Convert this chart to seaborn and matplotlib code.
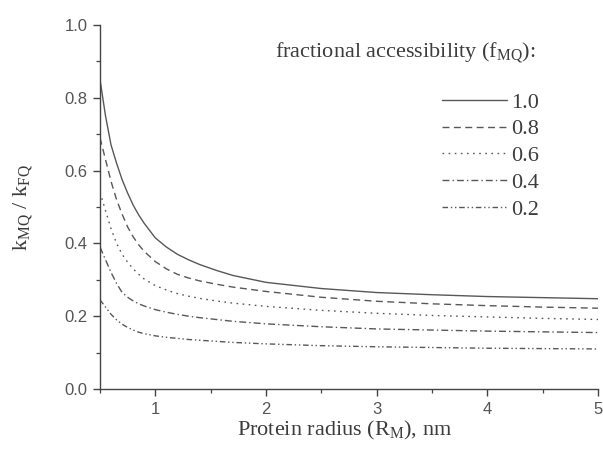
import numpy as np
import pandas as pd
import matplotlib
matplotlib.use("Agg")
import matplotlib.pyplot as plt
import seaborn as sns
from matplotlib.ticker import MultipleLocator

# ---- data ----
radius = [0.5, 0.55, 0.6, 0.65, 0.7, 0.75, 0.8, 0.85, 0.9, 1.0, 1.1, 1.2, 1.3, 1.4, 1.55, 1.7, 2.0, 2.5, 3.0, 3.5, 4.0, 4.5, 5.0]
k_10 = [0.85, 0.75, 0.67, 0.62, 0.575, 0.538, 0.505, 0.478, 0.455, 0.415, 0.390, 0.370, 0.355, 0.342, 0.326, 0.312, 0.293, 0.276, 0.265, 0.259, 0.254, 0.251, 0.248]
k_08 = [0.69, 0.63, 0.57, 0.52, 0.48, 0.445, 0.418, 0.396, 0.378, 0.350, 0.330, 0.315, 0.305, 0.297, 0.288, 0.280, 0.268, 0.252, 0.241, 0.234, 0.229, 0.225, 0.222]
k_06 = [0.54, 0.49, 0.44, 0.40, 0.37, 0.348, 0.330, 0.315, 0.302, 0.284, 0.272, 0.262, 0.255, 0.249, 0.242, 0.236, 0.227, 0.216, 0.208, 0.202, 0.198, 0.194, 0.191]
k_04 = [0.39, 0.355, 0.32, 0.29, 0.265, 0.252, 0.242, 0.234, 0.228, 0.218, 0.211, 0.205, 0.200, 0.196, 0.191, 0.186, 0.179, 0.171, 0.165, 0.162, 0.159, 0.157, 0.155]
k_02 = [0.245, 0.225, 0.205, 0.19, 0.178, 0.169, 0.162, 0.156, 0.152, 0.146, 0.142, 0.139, 0.136, 0.134, 0.131, 0.128, 0.124, 0.119, 0.116, 0.114, 0.112, 0.111, 0.110]
f_labels = ["1.0", "0.8", "0.6", "0.4", "0.2"]
series = [k_10, k_08, k_06, k_04, k_02]

legend_title = r"fractional accessibility (f$_{\mathrm{MQ}}$):"
xlabel = r"Protein radius (R$_{\mathrm{M}}$), nm"
ylabel = r"k$_{\mathrm{MQ}}$ / k$_{\mathrm{FQ}}$"

df = pd.concat([pd.DataFrame({"R": radius, "k": s, "f": lab}) for s, lab in zip(series, f_labels)],
               ignore_index=True)

sns.set_style("ticks")
plt.rcParams["font.family"] = ["Liberation Serif", "DejaVu Serif"]
plt.rcParams["mathtext.fontset"] = "custom"
plt.rcParams["mathtext.rm"] = "Liberation Serif"
plt.rcParams["mathtext.it"] = "Liberation Serif:italic"

W, H = 603, 457
fig = plt.figure(figsize=(W / 100, H / 100), dpi=100)
fig.patch.set_facecolor("white")
ax = fig.add_axes([100 / W, 1 - 389 / H, 498 / W, 364 / H])
ax.set_facecolor("white")

line_col = "#585858"
text_col = "#3c3c3c"
dashes = {
    "1.0": "",
    "0.8": (5.0, 3.2),
    "0.6": (1.2, 3.2),
    "0.4": (5.0, 2.2, 1.0, 2.2),
    "0.2": (4.0, 2.0, 1.0, 2.0, 1.0, 2.0),
}
sns.lineplot(data=df, x="R", y="k", style="f", style_order=f_labels, dashes=dashes,
             color=line_col, linewidth=1.0, legend=False, ax=ax)

ax.set_xlim(0.5, 5)
ax.set_ylim(0, 1.0)
ax.xaxis.set_major_locator(MultipleLocator(1))
ax.xaxis.set_minor_locator(MultipleLocator(0.5))
ax.yaxis.set_major_locator(MultipleLocator(0.2))
ax.yaxis.set_minor_locator(MultipleLocator(0.1))
ax.xaxis.set_major_formatter(matplotlib.ticker.FormatStrFormatter("%d"))
ax.yaxis.set_major_formatter(matplotlib.ticker.FormatStrFormatter("%.1f"))

for s in ["top", "right"]:
    ax.spines[s].set_visible(False)
for s in ["left", "bottom"]:
    ax.spines[s].set_color("#444444")
    ax.spines[s].set_linewidth(1.0)

ax.tick_params(axis="both", which="major", direction="out", length=5, width=1.0,
               color="#444444", labelcolor="#555555", pad=4)
ax.tick_params(axis="both", which="minor", direction="out", length=3, width=0.9, color="#444444")
for lab in ax.get_xticklabels() + ax.get_yticklabels():
    lab.set_family(["Liberation Sans", "DejaVu Sans"])
    lab.set_fontsize(12)

ax.set_xlabel(xlabel, fontsize=16, color=text_col, va="center")
ax.xaxis.set_label_coords((345 - 100) / 498, (389 - 430) / 364)
ax.set_ylabel(ylabel, fontsize=16, color=text_col, va="center")
ax.yaxis.set_label_coords((23 - 100) / 498, 0.5)

# legend
handles = ax.get_lines()[:5]
leg = ax.legend(handles, f_labels, loc="upper right", frameon=False,
                bbox_to_anchor=(539 / W, 1 - 92 / H), bbox_transform=fig.transFigure,
                borderpad=0, borderaxespad=0, handlelength=2.9, handletextpad=0.2,
                labelspacing=0.28, prop={"family": ["Liberation Serif"], "size": 16})
for t in leg.get_texts():
    t.set_color(text_col)
fig.text(536 / W, 1 - 53 / H, legend_title, ha="right", va="center", fontsize=16, color=text_col)

fig.savefig("out.png", dpi=100, facecolor="white")
